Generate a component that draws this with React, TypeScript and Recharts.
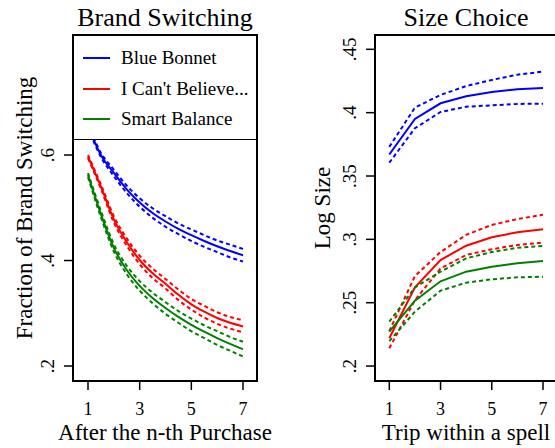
import React from 'react';
import { LineChart, Line, XAxis, YAxis, ReferenceArea, Legend, Label } from 'recharts';

const FONT = '"Liberation Serif", "Times New Roman", serif';

const seriesNames = ['Blue Bonnet', "I Can't Believe...", 'Smart Balance'];
const seriesColors = ['#0000ff', '#ff0000', '#008000'];

// Left panel: Brand Switching
const purchaseN = [1, 1.5, 2, 2.5, 3, 3.5, 4, 4.5, 5, 5.5, 6, 6.5, 7];
const switchBlue = [0.655, 0.6, 0.566, 0.535, 0.51, 0.49, 0.474, 0.46, 0.448, 0.437, 0.427, 0.418, 0.41];
const switchBlueUp = [0.658, 0.604, 0.572, 0.542, 0.518, 0.499, 0.484, 0.47, 0.459, 0.448, 0.438, 0.43, 0.422];
const switchBlueLo = [0.652, 0.596, 0.56, 0.528, 0.502, 0.481, 0.464, 0.45, 0.437, 0.426, 0.416, 0.406, 0.398];
const switchRed = [0.597, 0.54, 0.478, 0.435, 0.401, 0.376, 0.356, 0.335, 0.317, 0.303, 0.291, 0.282, 0.275];
const switchRedUp = [0.6, 0.544, 0.484, 0.442, 0.409, 0.385, 0.365, 0.345, 0.327, 0.314, 0.302, 0.293, 0.287];
const switchRedLo = [0.594, 0.536, 0.472, 0.428, 0.393, 0.367, 0.347, 0.325, 0.307, 0.292, 0.28, 0.271, 0.264];
const switchGreen = [0.562, 0.488, 0.424, 0.382, 0.352, 0.329, 0.31, 0.293, 0.278, 0.265, 0.253, 0.242, 0.232];
const switchGreenUp = [0.566, 0.494, 0.431, 0.39, 0.361, 0.339, 0.321, 0.304, 0.29, 0.277, 0.266, 0.255, 0.246];
const switchGreenLo = [0.558, 0.482, 0.417, 0.374, 0.343, 0.319, 0.299, 0.282, 0.266, 0.253, 0.24, 0.229, 0.218];

// Right panel: Size Choice
const tripN = [1, 2, 3, 4, 5, 6, 7];
const sizeBlue = [0.367, 0.395, 0.4074, 0.413, 0.4163, 0.4185, 0.4195];
const sizeBlueUp = [0.373, 0.404, 0.414, 0.421, 0.4258, 0.43, 0.4324];
const sizeBlueLo = [0.3605, 0.3877, 0.4005, 0.4047, 0.4058, 0.4069, 0.4071];
const sizeRed = [0.2219, 0.2622, 0.2837, 0.295, 0.3017, 0.3056, 0.308];
const sizeRedUp = [0.2276, 0.271, 0.29, 0.3035, 0.3114, 0.316, 0.3195];
const sizeRedLo = [0.214, 0.252, 0.277, 0.2877, 0.2922, 0.2956, 0.2974];
const sizeGreen = [0.2271, 0.2516, 0.2669, 0.2745, 0.2784, 0.2811, 0.2829];
const sizeGreenUp = [0.235, 0.262, 0.2745, 0.285, 0.29, 0.2934, 0.2948];
const sizeGreenLo = [0.2197, 0.2429, 0.2595, 0.2658, 0.2685, 0.27, 0.2705];

const xTicks = [1, 3, 5, 7];
const switchYTicks = [0.2, 0.4, 0.6];
const sizeYTicks = [0.2, 0.25, 0.3, 0.35, 0.4, 0.45];

const switchXDomain: [number, number] = [0.419, 7.542];
const switchYDomain: [number, number] = [0.1716, 0.8275];
const sizeXDomain: [number, number] = [0.442, 7.546];
const sizeYDomain: [number, number] = [0.1882, 0.4613];

const switchData = purchaseN.map((x, i) => ({
  x,
  bM: switchBlue[i], bU: switchBlueUp[i], bL: switchBlueLo[i],
  rM: switchRed[i], rU: switchRedUp[i], rL: switchRedLo[i],
  gM: switchGreen[i], gU: switchGreenUp[i], gL: switchGreenLo[i],
}));

const sizeData = tripN.map((x, i) => ({
  x,
  bM: sizeBlue[i], bU: sizeBlueUp[i], bL: sizeBlueLo[i],
  rM: sizeRed[i], rU: sizeRedUp[i], rL: sizeRedLo[i],
  gM: sizeGreen[i], gU: sizeGreenUp[i], gL: sizeGreenLo[i],
}));

const fmt = (v: number) => String(v).replace(/^0\./, '.');

const YTick = (props: any) => {
  const { x, y, payload } = props;
  return (
    <text
      transform={`translate(${x - 10},${y}) rotate(-90)`}
      textAnchor="middle"
      fontSize={19}
      fontFamily={FONT}
      fill="#000"
    >
      {fmt(payload.value)}
    </text>
  );
};

const XTick = (props: any) => {
  const { x, y, payload } = props;
  return (
    <text x={x} y={y + 25} textAnchor="middle" fontSize={18} fontFamily={FONT} fill="#000">
      {payload.value}
    </text>
  );
};

const xLabel = (text: string) => (props: any) => {
  const vb = props.viewBox || {};
  return (
    <text x={vb.x + vb.width / 2} y={vb.y + 59} textAnchor="middle" fontSize={23} fontFamily={FONT} fill="#000">
      {text}
    </text>
  );
};

const yLabel = (text: string, bx: number) => (props: any) => {
  const vb = props.viewBox || {};
  return (
    <text
      transform={`translate(${vb.x + bx},${vb.y + vb.height / 2}) rotate(-90)`}
      textAnchor="middle"
      fontSize={23}
      fontFamily={FONT}
      fill="#000"
    >
      {text}
    </text>
  );
};

const LegendBox = () => (
  <div
    style={{
      position: 'relative',
      width: 184,
      height: 105,
      boxSizing: 'border-box',
      border: '1.5px solid #000',
      background: '#fff',
      fontFamily: FONT,
      fontSize: 19,
      color: '#000',
    }}
  >
    {seriesNames.map((name, i) => (
      <div
        key={name}
        style={{
          position: 'absolute',
          left: 9,
          top: 22 + i * 30.5 - 12,
          height: 24,
          display: 'flex',
          alignItems: 'center',
          whiteSpace: 'nowrap',
        }}
      >
        <div style={{ width: 27, height: 2, background: seriesColors[i], marginRight: 11 }} />
        <span style={{ lineHeight: '24px' }}>{name}</span>
      </div>
    ))}
  </div>
);

const keys = [
  ['bM', 'bU', 'bL'],
  ['rM', 'rU', 'rL'],
  ['gM', 'gU', 'gL'],
];

const renderLines = (curve: 'monotone' | 'linear') =>
  keys.flatMap((k, i) => [
    <Line key={k[1]} dataKey={k[1]} type={curve} stroke={seriesColors[i]} strokeWidth={2} strokeDasharray="4 3" dot={false} isAnimationActive={false} legendType="none" />,
    <Line key={k[2]} dataKey={k[2]} type={curve} stroke={seriesColors[i]} strokeWidth={2} strokeDasharray="4 3" dot={false} isAnimationActive={false} legendType="none" />,
    <Line key={k[0]} dataKey={k[0]} type={curve} stroke={seriesColors[i]} strokeWidth={2} dot={false} isAnimationActive={false} />,
  ]);

const titleStyle = (left: number, width: number): React.CSSProperties => ({
  position: 'absolute',
  left,
  top: 5,
  width,
  textAlign: 'center',
  fontFamily: FONT,
  fontSize: 26,
  lineHeight: '25px',
  color: '#000',
  whiteSpace: 'nowrap',
});

export default function App() {
  return (
    <div style={{ position: 'absolute', left: 0, top: 0, width: 555, height: 448, overflow: 'hidden', background: '#fff' }}>
      <div style={{ position: 'absolute', left: 0, top: 0 }}>
        <LineChart width={280} height={448} data={switchData} margin={{ top: 35, right: 23, bottom: 0, left: 0 }}>
          <XAxis
            dataKey="x"
            type="number"
            domain={switchXDomain}
            allowDataOverflow
            ticks={xTicks}
            height={67}
            axisLine={false}
            stroke="#000"
            tickSize={9}
            tickMargin={0}
            tickLine={{ stroke: '#000', strokeWidth: 1.5 }}
            tick={<XTick />}
            interval={0}
          >
            <Label content={xLabel('After the n-th Purchase')} />
          </XAxis>
          <YAxis
            type="number"
            domain={switchYDomain}
            allowDataOverflow
            ticks={switchYTicks}
            width={73}
            axisLine={false}
            stroke="#000"
            tickSize={9}
            tickMargin={0}
            tickLine={{ stroke: '#000', strokeWidth: 1.5 }}
            tick={<YTick />}
            interval={0}
          >
            <Label content={yLabel('Fraction of Brand Switching', 32)} />
          </YAxis>
          {renderLines('monotone')}
          <ReferenceArea
            x1={switchXDomain[0]}
            x2={switchXDomain[1]}
            y1={switchYDomain[0]}
            y2={switchYDomain[1]}
            fill="none"
            fillOpacity={0}
            stroke="#000"
            strokeWidth={2}
            ifOverflow="visible"
          />
          <Legend
            layout="horizontal"
            verticalAlign="middle"
            align="center"
            content={<LegendBox />}
            wrapperStyle={{ position: 'absolute', left: 73, top: 35, width: 184, height: 105, margin: 0, padding: 0 }}
          />
        </LineChart>
        <div style={titleStyle(73, 184)}>Brand Switching</div>
      </div>
      <div style={{ position: 'absolute', left: 280, top: 0 }}>
        <LineChart width={280} height={448} data={sizeData} margin={{ top: 35, right: 3, bottom: 0, left: 0 }}>
          <XAxis
            dataKey="x"
            type="number"
            domain={sizeXDomain}
            allowDataOverflow
            ticks={xTicks}
            height={67}
            axisLine={false}
            stroke="#000"
            tickSize={9}
            tickMargin={0}
            tickLine={{ stroke: '#000', strokeWidth: 1.5 }}
            tick={<XTick />}
            interval={0}
          >
            <Label content={xLabel('Trip within a spell')} />
          </XAxis>
          <YAxis
            type="number"
            domain={sizeYDomain}
            allowDataOverflow
            ticks={sizeYTicks}
            width={95}
            axisLine={false}
            stroke="#000"
            tickSize={9}
            tickMargin={0}
            tickLine={{ stroke: '#000', strokeWidth: 1.5 }}
            tick={<YTick />}
            interval={0}
          >
            <Label content={yLabel('Log Size', 50)} />
          </YAxis>
          {renderLines('linear')}
          <ReferenceArea
            x1={sizeXDomain[0]}
            x2={sizeXDomain[1]}
            y1={sizeYDomain[0]}
            y2={sizeYDomain[1]}
            fill="none"
            fillOpacity={0}
            stroke="#000"
            strokeWidth={2}
            ifOverflow="visible"
          />
        </LineChart>
        <div style={titleStyle(95, 182)}>Size Choice</div>
      </div>
    </div>
  );
}
